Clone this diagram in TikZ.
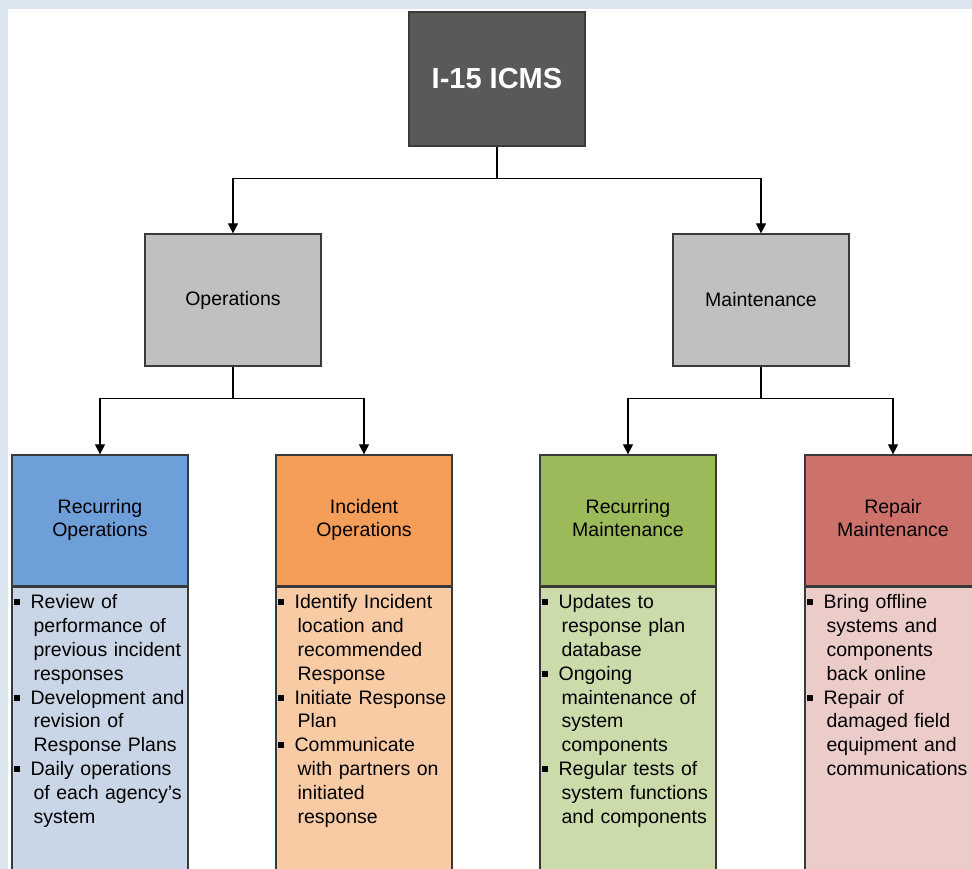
\documentclass[tikz,border=0pt]{standalone}
\usepackage{fontspec}
\setmainfont{Liberation Sans}
\usepackage{xcolor}
\usetikzlibrary{arrows.meta}

\definecolor{pagebg}{HTML}{DCE6F1}
\definecolor{topgray}{HTML}{595959}
\definecolor{midgray}{HTML}{C0C0C0}
\definecolor{edgegray}{HTML}{3A3A3A}
\definecolor{blueHead}{HTML}{6F9FD8}
\definecolor{blueBody}{HTML}{C8D6E7}
\definecolor{orangeHead}{HTML}{F59E5A}
\definecolor{orangeBody}{HTML}{F9CBA5}
\definecolor{greenHead}{HTML}{9BBB5A}
\definecolor{greenBody}{HTML}{CBDCAA}
\definecolor{redHead}{HTML}{CD726A}
\definecolor{redBody}{HTML}{ECCCC9}

\newcommand{\bitem}[1]{\noindent\hangindent=22pt\hangafter=1%
  \makebox[19pt][l]{\hspace{2pt}\raisebox{3.5pt}{\rule{6pt}{6pt}}}#1\par}

\begin{document}
\begin{tikzpicture}[
    x=1pt, y=-1pt,
    every node/.style={font=\fontsize{19.5}{23.5}\selectfont},
    box/.style={rectangle, draw=edgegray, line width=1.2pt, minimum width=176pt, inner sep=0pt, align=center},
    topbox/.style={box, fill=topgray, minimum height=134pt, text=white, font=\fontsize{29}{34}\selectfont\bfseries},
    midbox/.style={box, fill=midgray, minimum height=132pt},
    headbox/.style={box, minimum height=131pt},
    bodybox/.style={box, minimum height=300pt, anchor=north},
    items/.style={anchor=north west, text width=176pt, inner sep=0pt, yshift=-8pt, font=\fontsize{19.5}{23.8}\selectfont},
    arrow/.style={-{Triangle[width=10pt,length=10pt]}, line width=1.1pt, draw=black}
]
\clip (0,0) rectangle (972,869);
\fill[pagebg] (0,0) rectangle (972,869);
\fill[white] (8,9) rectangle (972,869);

% Level 1
\node[topbox] (icms) at (497,79) {I-15 ICMS};

% Level 2
\node[midbox] (ops) at (233,300) {Operations};
\node[midbox] (maint) at (761,300) {Maintenance};

\draw[arrow] (icms.south) -- ++(0,32) -| (ops.north);
\draw[arrow] (icms.south) -- ++(0,32) -| (maint.north);

% Level 3: Operations
\node[headbox, fill=blueHead] (recops) at (100,520.5) {Recurring\strut\\Operations\strut};
\node[bodybox, fill=blueBody] (recopsbody) at (recops.south) {};
\node[items] (recopstext) at (recopsbody.north west) {\rightskip=0pt plus 1fil
  \bitem{Review of\newline performance of\newline previous incident\newline responses}
  \bitem{Development and\newline revision of\newline Response Plans}
  \bitem{Daily operations\newline of each agency's\newline system}};

\node[headbox, fill=orangeHead] (incops) at (364,520.5) {Incident\strut\\Operations\strut};
\node[bodybox, fill=orangeBody] (incopsbody) at (incops.south) {};
\node[items] (incopstext) at (incopsbody.north west) {\rightskip=0pt plus 1fil
  \bitem{Identify Incident\newline location and\newline recommended\newline Response}
  \bitem{Initiate Response\newline Plan}
  \bitem{Communicate\newline with partners on\newline initiated\newline response}};

\draw[arrow] (ops.south) -- ++(0,32) -| (recops.north);
\draw[arrow] (ops.south) -- ++(0,32) -| (incops.north);

% Level 3: Maintenance
\node[headbox, fill=greenHead] (recmaint) at (628,520.5) {Recurring\strut\\Maintenance\strut};
\node[bodybox, fill=greenBody] (recmaintbody) at (recmaint.south) {};
\node[items] (recmainttext) at (recmaintbody.north west) {\rightskip=0pt plus 1fil
  \bitem{Updates to\newline response plan\newline database}
  \bitem{Ongoing\newline maintenance of\newline system\newline components}
  \bitem{Regular tests of\newline system functions\newline and components}};

\node[headbox, fill=redHead] (repmaint) at (893,520.5) {Repair\strut\\Maintenance\strut};
\node[bodybox, fill=redBody] (repmaintbody) at (repmaint.south) {};
\node[items] (repmainttext) at (repmaintbody.north west) {\rightskip=0pt plus 1fil
  \bitem{Bring offline\newline systems and\newline components\newline back online}
  \bitem{Repair of\newline damaged field\newline equipment and\newline communications}};

\draw[arrow] (maint.south) -- ++(0,32) -| (recmaint.north);
\draw[arrow] (maint.south) -- ++(0,32) -| (repmaint.north);

\end{tikzpicture}
\end{document}
